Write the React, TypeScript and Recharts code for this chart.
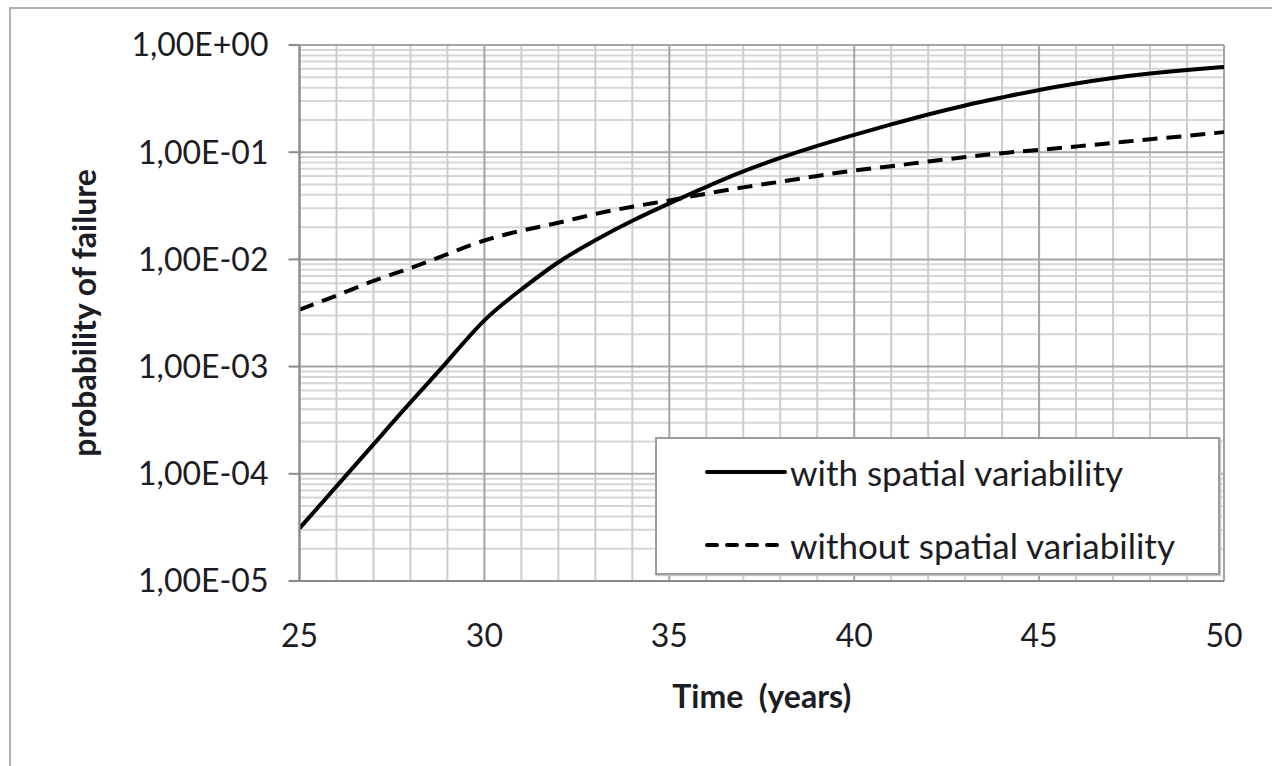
import React from 'react';
import { LineChart, Line, XAxis, YAxis, ReferenceLine, Legend } from 'recharts';

const years = [25, 26, 27, 28, 29, 30, 31, 32, 33, 34, 35, 36, 37, 38, 39, 40, 41, 42, 43, 44, 45, 46, 47, 48, 49, 50];
const withSpatial = [
  3.1e-5, 7.63e-5, 1.88e-4, 4.63e-4, 1.12e-3, 2.7e-3, 5.25e-3, 9.4e-3, 1.51e-2, 2.29e-2,
  3.33e-2, 4.75e-2, 6.62e-2, 8.85e-2, 1.145e-1, 1.45e-1, 1.815e-1, 2.25e-1, 2.73e-1, 3.24e-1,
  3.81e-1, 4.38e-1, 4.93e-1, 5.42e-1, 5.85e-1, 6.25e-1,
];
const withoutSpatial = [
  3.4e-3, 4.6e-3, 6.3e-3, 8.3e-3, 1.12e-2, 1.5e-2, 1.85e-2, 2.2e-2, 2.65e-2, 3.1e-2,
  3.55e-2, 4.1e-2, 4.7e-2, 5.3e-2, 6.0e-2, 6.75e-2, 7.4e-2, 8.2e-2, 9.0e-2, 9.8e-2,
  1.05e-1, 1.13e-1, 1.22e-1, 1.32e-1, 1.42e-1, 1.54e-1,
];
const xTicks = [25, 30, 35, 40, 45, 50];
const yTicks = [1e-5, 1e-4, 1e-3, 1e-2, 1e-1, 1];
const minorMultipliers = [2, 3, 4, 5, 6, 7, 8, 9];
const seriesNames = ['with spatial variability', 'without spatial variability'];

const data = years.map((t, i) => ({ t, a: withSpatial[i], b: withoutSpatial[i] }));
const minorY: number[] = [];
yTicks.slice(0, -1).forEach((d) => minorMultipliers.forEach((m) => minorY.push(d * m)));
const minorX = years.filter((y) => !xTicks.includes(y));

const FONT = 'Lato, "Open Sans", sans-serif';
const TEXT = '#1c1c24';

const fmtY = (v: number) => {
  const e = Math.round(Math.log10(v));
  const s = e >= 0 ? '+' : '-';
  const a = Math.abs(e);
  return `1,00E${s}${a < 10 ? '0' : ''}${a}`;
};

const LegendBox = () => (
  <div
    style={{
      width: 561,
      height: 134,
      background: '#fff',
      border: '2px solid #9c9c9c',
      boxShadow: '1px 1px 1px #c8c8c8',
      fontFamily: FONT,
      fontSize: 35,
      color: TEXT,
      position: 'relative',
    }}
  >
    {seriesNames.map((n, i) => (
      <div
        key={n}
        style={{ position: 'absolute', left: 48, top: i === 0 ? 13 : 86, display: 'flex', alignItems: 'center', height: 40 }}
      >
        <svg width={82} height={10} style={{ marginRight: 3 }}>
          <line
            x1={2}
            y1={5}
            x2={80}
            y2={5}
            stroke="#000"
            strokeWidth={4}
            strokeLinecap="round"
            strokeDasharray={i === 0 ? undefined : '10 10'}
          />
        </svg>
        <span style={{ whiteSpace: 'nowrap', lineHeight: '40px' }}>{n}</span>
      </div>
    ))}
  </div>
);

const YTitle = (props: any) => {
  const vb = props.viewBox || {};
  const x = (vb.x ?? 10) + 73;
  const y = (vb.y ?? 45) + (vb.height ?? 536) / 2;
  return (
    <text
      x={x}
      y={y}
      transform={`rotate(-90, ${x}, ${y})`}
      textAnchor="middle"
      dominantBaseline="central"
      fontFamily={FONT}
      fontWeight="bold"
      fontSize={32}
      fill={TEXT}
    >
      probability of failure
    </text>
  );
};

export default function App() {
  return (
    <div style={{ position: 'absolute', left: 0, top: 0, width: 1272, height: 766, background: '#fff', overflow: 'hidden' }}>
      <div
        style={{
          position: 'absolute',
          left: 9,
          top: 7,
          width: 1400,
          height: 900,
          borderLeft: '2px solid #b0b0b0',
          borderTop: '2px solid #b0b0b0',
        }}
      />
      <LineChart width={1272} height={766} data={data} margin={{ top: 45, right: 48, bottom: 35, left: 10 }}>
        <XAxis
          dataKey="t"
          type="number"
          domain={[25, 50]}
          ticks={xTicks}
          allowDataOverflow
          height={150}
          tickLine={false}
          tickSize={0}
          tickMargin={43}
          axisLine={{ stroke: '#8a8a8a', strokeWidth: 2 }}
          tick={{ fontFamily: FONT, fontSize: 32, fill: TEXT }}
          label={{
            value: 'Time\u00A0\u00A0(years)',
            position: 'insideTop',
            offset: 104,
            style: { fontFamily: FONT, fontSize: 32, fontWeight: 'bold', fill: TEXT },
          }}
        />
        <YAxis
          type="number"
          scale="log"
          domain={[1e-5, 1]}
          ticks={yTicks}
          allowDataOverflow
          width={289.5}
          tickSize={11}
          tickMargin={20}
          tickFormatter={fmtY}
          tickLine={{ stroke: '#8a8a8a', strokeWidth: 2 }}
          axisLine={{ stroke: '#8a8a8a', strokeWidth: 2 }}
          tick={{ fontFamily: FONT, fontSize: 32, fill: TEXT }}
          label={{ content: YTitle }}
        />
        {minorY.map((v) => (
          <ReferenceLine key={`my${v}`} y={v} stroke="#d6d6d6" strokeWidth={2} />
        ))}
        {minorX.map((v) => (
          <ReferenceLine key={`mx${v}`} x={v} stroke="#cdcdcd" strokeWidth={2} />
        ))}
        {yTicks.map((v) => (
          <ReferenceLine key={`My${v}`} y={v} stroke="#a4a4a4" strokeWidth={2} />
        ))}
        {xTicks.map((v) => (
          <ReferenceLine key={`Mx${v}`} x={v} stroke="#a4a4a4" strokeWidth={2} />
        ))}
        <Line
          type="natural"
          dataKey="b"
          name={seriesNames[1]}
          stroke="#000"
          strokeWidth={4}
          strokeDasharray="15 9"
          dot={false}
          activeDot={false}
          isAnimationActive={false}
        />
        <Line
          type="natural"
          dataKey="a"
          name={seriesNames[0]}
          stroke="#000"
          strokeWidth={4}
          dot={false}
          activeDot={false}
          isAnimationActive={false}
        />
        <Legend
          layout="vertical"
          align="center"
          verticalAlign="middle"
          content={<LegendBox />}
          wrapperStyle={{ left: 655, top: 437, width: 565, height: 138 }}
        />
      </LineChart>
    </div>
  );
}
